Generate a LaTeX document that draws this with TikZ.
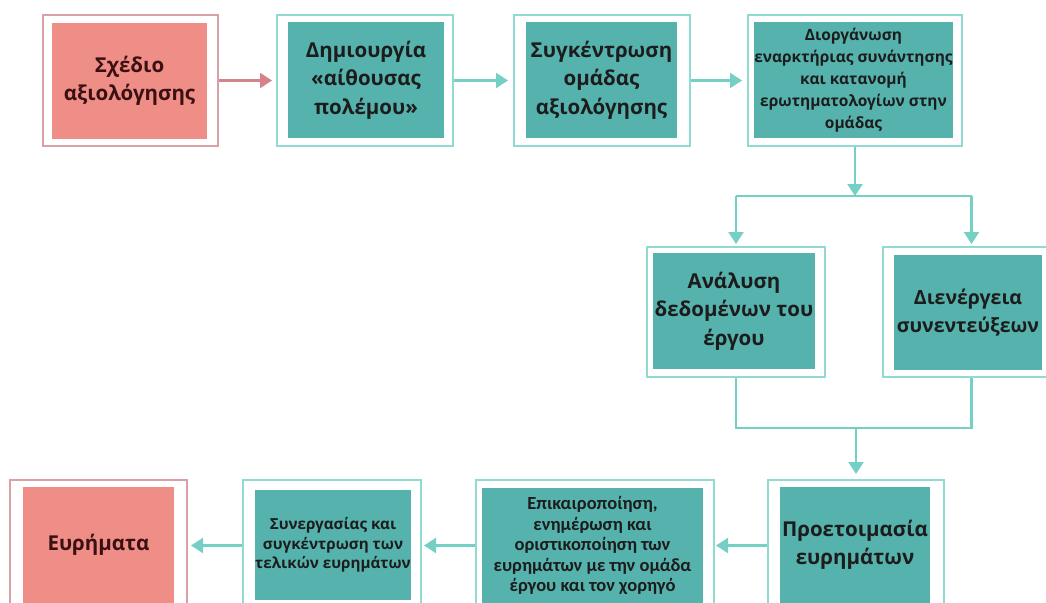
\documentclass[tikz,border=0pt]{standalone}
\usepackage{fontspec}
\setmainfont{Open Sans}
\newfontfamily\narrowfont{Carlito}
\usetikzlibrary{arrows.meta}

\definecolor{pinkfill}{HTML}{EF8D87}
\definecolor{pinkframe}{HTML}{D9A0A6}
\definecolor{pinkline}{HTML}{D5838A}
\definecolor{pinktext}{HTML}{3A1012}
\definecolor{tealfill}{HTML}{55B2AD}
\definecolor{tealframe}{HTML}{90DAD1}
\definecolor{tealline}{HTML}{74CFC4}
\definecolor{darktext}{HTML}{1C1C1C}

\tikzset{
  outerbox/.style={draw=#1, line width=2pt, fill=white, inner sep=0pt},
  stepfill/.style={fill=#1, inner sep=0pt, align=center, text=darktext,
    font=\bfseries\fontsize{20.5}{28.5}\selectfont},
  smalltxt/.style={font=\bfseries\fontsize{15.5}{22}\selectfont},
  arr/.style={draw=tealline, line width=2.2pt,
    -{Triangle[length=12pt,width=15pt]}},
  pinkarr/.style={draw=pinkline, line width=2.2pt,
    -{Triangle[length=12pt,width=15pt]}},
  link/.style={draw=tealline, line width=2.2pt},
}

\begin{document}
\begin{tikzpicture}[x=1pt,y=-1pt]
\useasboundingbox (0,0) rectangle (1046,602);
\clip (0,0) rectangle (1046,602);

% top row
\node[outerbox=pinkframe, minimum width=175pt, minimum height=131pt] (o1) at (130.5,80.5) {};
\node[stepfill=pinkfill, text=pinktext, minimum width=155pt, minimum height=116pt] (b1) at (129.5,81)
  {Σχέδιο\\αξιολόγησης};

\node[outerbox=tealframe, minimum width=176pt, minimum height=131pt] (o2) at (365,80.5) {};
\node[stepfill=tealfill, minimum width=156pt, minimum height=116pt] (b2) at (366,80)
  {Δημιουργία\\«αίθουσας\\πολέμου»};

\node[outerbox=tealframe, minimum width=176pt, minimum height=131pt] (o3) at (602,80.5) {};
\node[stepfill=tealfill, minimum width=151pt, minimum height=116pt] (b3) at (601.5,80)
  {Συγκέντρωση\\ομάδας\\αξιολόγησης};

\node[outerbox=tealframe, minimum width=214pt, minimum height=131pt] (o4) at (855,80.5) {};
\node[stepfill=tealfill, smalltxt, minimum width=197pt, minimum height=116pt] (b4) at (853.5,80)
  {Διοργάνωση\\εναρκτήριας συνάντησης\\και κατανομή\\ερωτηματολογίων στην\\ομάδας};

% middle row
\node[outerbox=tealframe, minimum width=178pt, minimum height=130pt] (o5) at (736,312) {};
\node[stepfill=tealfill, minimum width=162pt, minimum height=116pt] (b5) at (734,311)
  {Ανάλυση\\δεδομένων του\\έργου};

\node[outerbox=tealframe, minimum width=177pt, minimum height=130pt] (o6) at (971.5,312) {};
\node[stepfill=tealfill, font=\bfseries\fontsize{19.5}{28.5}\selectfont,
  minimum width=148pt, minimum height=115pt] (b6) at (968,312.5)
  {Διενέργεια\\συνεντεύξεων};

% bottom row
\node[outerbox=tealframe, minimum width=176pt, minimum height=131pt] (o7) at (856,545.5) {};
\node[stepfill=tealfill, minimum width=150pt, minimum height=116pt] (b7) at (855,545)
  {Προετοιμασία\\ευρημάτων};

\node[outerbox=tealframe, minimum width=238pt, minimum height=131pt] (o8) at (595,545.5) {};
\node[stepfill=tealfill, font=\narrowfont\bfseries\fontsize{18.5}{20.5}\selectfont,
  minimum width=221pt, minimum height=115pt] (b8) at (592.5,545.5)
  {Επικαιροποίηση,\\ενημέρωση και\\οριστικοποίηση των\\ευρημάτων με την ομάδα\\έργου και τον χορηγό};

\node[outerbox=tealframe, minimum width=178pt, minimum height=131pt] (o10) at (332,545.5) {};
\node[stepfill=tealfill, font=\bfseries\fontsize{15.2}{19.5}\selectfont,
  minimum width=152pt, minimum height=110pt] (b10) at (333,545)
  {Συνεργασίας και\\συγκέντρωση των\\τελικών ευρημάτων};

\node[outerbox=pinkframe, minimum width=177pt, minimum height=131pt] (o9) at (98.5,545.5) {};
\node[stepfill=pinkfill, text=pinktext, minimum width=151pt, minimum height=116pt] (b9) at (98.5,545)
  {Ευρήματα};

% connectors along the top row
\draw[pinkarr, shorten >=4pt] (o1) -- (o2);
\draw[arr, shorten >=5pt] (o2) -- (o3);
\draw[arr, shorten >=5pt] (o3) -- (o4);

% split towards the two parallel activities
\coordinate (split) at (855,196);
\coordinate (splitl) at (o5.north |- split);
\coordinate (splitr) at (o6.north |- split);
\draw[arr] (o4.south) -- (split);
\draw[link] (splitl) -- (splitr);
\draw[arr, shorten >=2pt] (splitl) -- (o5.north);
\draw[arr, shorten >=2pt] (splitr) -- (o6.north);

% join back into the findings preparation
\coordinate (join) at (856,428);
\coordinate (joinl) at (o5.south |- join);
\coordinate (joinr) at (o6.south |- join);
\draw[link] (o5.south) -- (joinl) -- (joinr) -- (o6.south);
\draw[arr, shorten >=5pt] (join) -- (o7.north);

% connectors along the bottom row
\draw[arr, shorten >=1pt] (o7) -- (o8);
\draw[arr, shorten >=2pt] (o8) -- (o10);
\draw[arr, shorten >=3pt] (o10) -- (o9);
\end{tikzpicture}
\end{document}
